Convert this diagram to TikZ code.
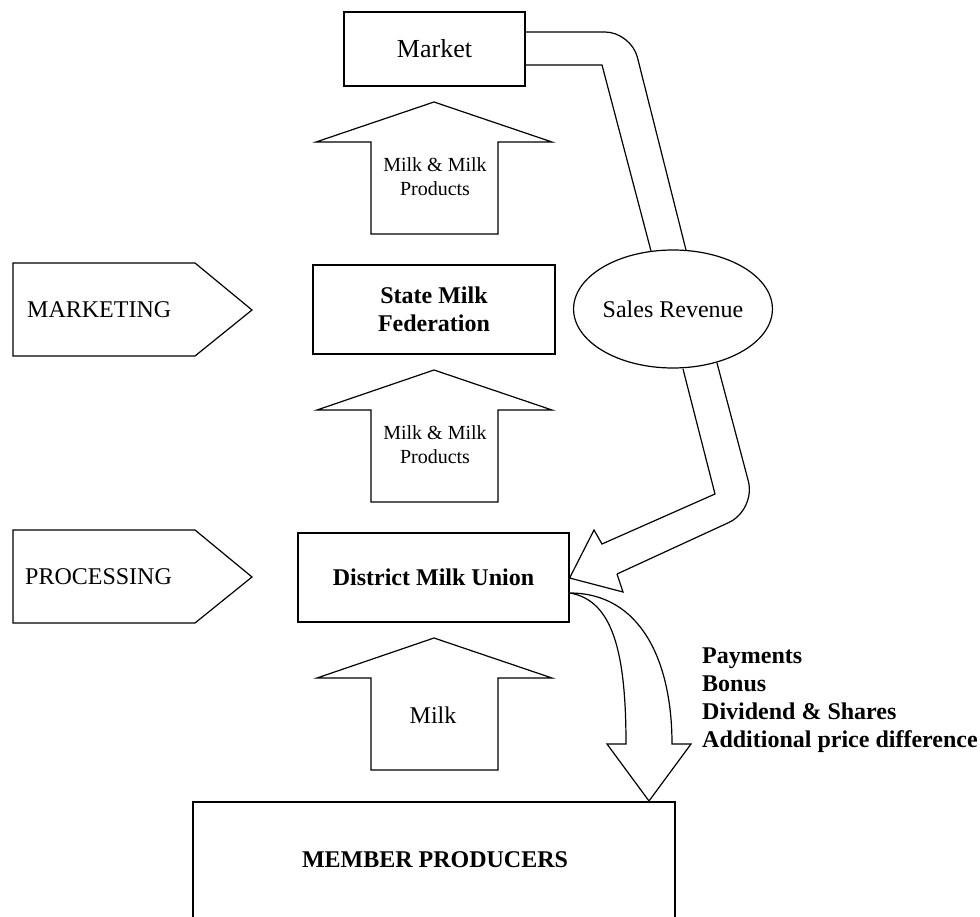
\documentclass[tikz,border=0pt]{standalone}
\usepackage{fontspec}
\setmainfont{Liberation Serif}
\usetikzlibrary{shapes.geometric}
\tikzset{
  shp/.style={draw=black, line width=1.2pt, line join=miter, fill=white},
  ln/.style={draw=black, line width=1.2pt},
  boxnode/.style={draw=black, line width=1.2pt, inner sep=0pt, align=center},
  txt/.style={inner sep=0pt, align=center},
  big/.style={font=\fontsize{24}{28}\selectfont},
  bigb/.style={font=\fontsize{24}{28}\selectfont\bfseries},
  small/.style={font=\fontsize{20}{24}\selectfont}
}
\begin{document}
\begin{tikzpicture}[x=1pt,y=-1pt]
\useasboundingbox (0,0) rectangle (980,917);

% Market
\node[boxnode, minimum width=181pt, minimum height=74pt, font=\fontsize{26}{30}\selectfont] (market) at (434.5,49) {Market};

% Up arrow 1
\draw[shp] (434,102) -- (552,142) -- (498,142) -- (498,234) -- (371,234) -- (371,142) -- (316,142) -- cycle;
\node[txt, small] (a1) at (435,177) {Milk \& Milk\\Products};

% State Milk Federation
\node[boxnode, bigb, minimum width=242pt, minimum height=89pt] (smf) at (434,309.5) {State Milk\\Federation};

% Up arrow 2
\draw[shp] (434,370) -- (552,410) -- (498,410) -- (498,502) -- (371,502) -- (371,410) -- (317,410) -- cycle;
\node[txt, small] (a2) at (435,445) {Milk \& Milk\\Products};

% District Milk Union
\node[boxnode, bigb, minimum width=271pt, minimum height=89pt] (dmu) at (433.5,577.5) {District Milk Union};

% Up arrow 3
\draw[shp] (434,638) -- (552,678) -- (498,678) -- (498,770) -- (371,770) -- (371,678) -- (317,678) -- cycle;
\node[txt, big] (a3) at (433,715) {Milk};

% Member producers (box runs past bottom)
\draw[ln] (193,917) -- (193,802) -- (675,802) -- (675,917);
\node[txt, bigb] (mp) at (435,860) {MEMBER PRODUCERS};

% Pentagons
\draw[shp] (13,263) -- (195,263) -- (252,310) -- (195,356) -- (13,356) -- cycle;
\node[txt, big, anchor=west] (mkt) at (27,310) {MARKETING};
\draw[shp] (13,530) -- (195,530) -- (252,577) -- (195,623) -- (13,623) -- cycle;
\node[txt, big, anchor=west] (proc) at (25,577) {PROCESSING};

% Sales revenue ellipse
\node[draw=black, line width=1.2pt, ellipse, minimum width=178pt, minimum height=118pt, inner sep=0pt, big] (sales) at (673,309) {Sales Revenue};

% Bent band from Market to Sales Revenue
\draw[ln, rounded corners=26pt] (market.east |- 0,32) -- (631,32) -- (686,250);
\draw[ln] (market.east |- 0,65) -- (602,65) -- (651,251);

% Bent arrow from Sales Revenue to District Milk Union
\draw[ln, line join=miter] (683,369) -- (715,494) -- (602,544) -- (594,530) -- (dmu.east |- 0,578) -- (623,592) -- (617,574);
\draw[ln, rounded corners=30pt] (617,574) -- (756,510) -- (717,363);

% Curved arrow to member producers
\coordinate (cs) at (dmu.east |- 0,593);
\draw[shp] (cs) .. controls (640,593) and (672,660) .. (672,744) -- (691,744) -- (649,801) -- (607,744) -- (626,744) .. controls (626,650) and (612,600) .. (cs);

% Payment labels
\node[txt, bigb, align=left, anchor=west] (pay) at (702,700) {Payments\\Bonus\\Dividend \& Shares\\Additional price difference};
\end{tikzpicture}
\end{document}
